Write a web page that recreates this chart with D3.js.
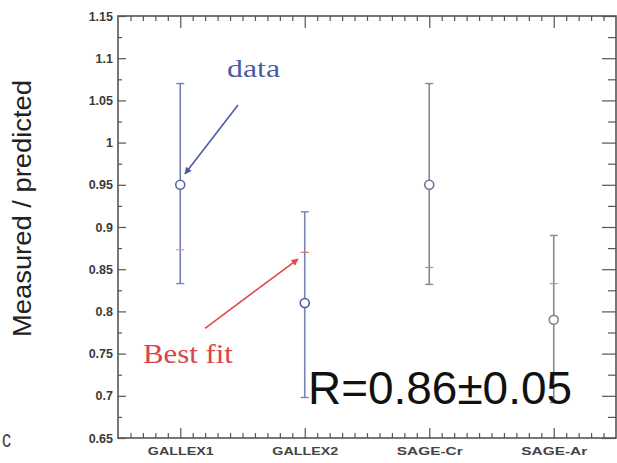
<!DOCTYPE html>
<html>
<head>
<meta charset="utf-8">
<script src="https://cdn.jsdelivr.net/npm/d3@7"></script>
<style>
  html, body { margin: 0; padding: 0; background: #fff; }
  svg { display: block; }
</style>
</head>
<body>
<svg id="chart" width="617" height="463"></svg>
<script>
// Experiments and measured / predicted ratios
const categories = ["GALLEX1", "GALLEX2", "SAGE-Cr", "SAGE-Ar"];
const measured   = [0.95, 0.81, 0.95, 0.79];
const errLow     = [0.833, 0.698, 0.832, 0.692];
const errHigh    = [1.07, 0.918, 1.07, 0.89];
const bestFit    = [0.873, 0.87, 0.852, 0.833];

// Y tick labels
const yTicks = [0.65, 0.7, 0.75, 0.8, 0.85, 0.9, 0.95, 1, 1.05, 1.1, 1.15];
const yTickLabels = ["0.65", "0.7", "0.75", "0.8", "0.85", "0.9", "0.95", "1", "1.05", "1.1", "1.15"];

// Annotations (in category-index / ratio units)
const dataArrow = { from: [0.964, 1.0446], to: [0.538, 0.963] };
const fitArrow  = { from: [0.699, 0.780], to: [1.446, 0.862] };
const dataNote  = { text: "data", at: [0.876, 1.078] };
const fitNote   = { text: "Best fit", at: [0.2, 0.739] };
const rNote     = { text: "R=0.86\u00b10.05", at: [1.526, 0.690] };

const barColors    = ["#7480b4", "#7a84b4", "#858894", "#8a8a8e"];
const circleColors = ["#5a68a6", "#4a5aa2", "#6e7596", "#85858a"];
const fitColors    = ["#c9a0a8", "#d66a6a", "#9a9aa0", "#a0a0a4"];

const svg = d3.select("#chart");
const plotL = 118, plotR = 616, plotT = 16, plotB = 438;

const x = d3.scaleLinear().domain([0, 4]).range([plotL, plotR]);
const y = d3.scaleLinear().domain([0.65, 1.15]).range([plotB, plotT]);

const axisColor = "#555";
const labelFont = "'Liberation Sans', Arial, sans-serif";

// Frame
svg.append("rect")
  .attr("x", plotL).attr("y", plotT)
  .attr("width", plotR - plotL).attr("height", plotB - plotT)
  .attr("fill", "none").attr("stroke", axisColor).attr("stroke-width", 1.6);

function styleAxis(g) {
  g.select(".domain").remove();
  g.selectAll(".tick line").attr("stroke", axisColor).attr("stroke-width", 1.2);
}

// Left axis: major ticks with labels, minor ticks in between
const yMinor = d3.range(0, 10).map(i => 0.675 + i * 0.05);
svg.append("g").attr("transform", `translate(${plotL},0)`)
  .call(d3.axisLeft(y).tickValues(yMinor).tickSize(-4).tickFormat(""))
  .call(styleAxis);
svg.append("g").attr("transform", `translate(${plotL},0)`)
  .call(d3.axisLeft(y).tickValues(yTicks).tickSize(-8).tickPadding(5)
        .tickFormat((d, i) => yTickLabels[i]))
  .call(styleAxis)
  .call(g => g.selectAll("text")
    .attr("font-family", labelFont).attr("font-weight", "bold")
    .attr("font-size", 12.5).attr("fill", "#3a3a3a"));

// Right axis ticks
svg.append("g").attr("transform", `translate(${plotR},0)`)
  .call(d3.axisRight(y).tickValues(yMinor).tickSize(-8).tickFormat(""))
  .call(styleAxis);
svg.append("g").attr("transform", `translate(${plotR},0)`)
  .call(d3.axisRight(y).tickValues(yTicks).tickSize(-14).tickFormat(""))
  .call(styleAxis);

// Bottom and top axes: minor ticks every 0.1, category ticks longer
const xCat = categories.map((c, i) => i + 0.5);
const xMinor = d3.range(1, 40).map(i => i / 10)
  .filter(v => !xCat.some(c => Math.abs(c - v) < 1e-6));

svg.append("g").attr("transform", `translate(0,${plotB})`)
  .call(d3.axisBottom(x).tickValues(xMinor).tickSize(-5).tickFormat(""))
  .call(styleAxis);
svg.append("g").attr("transform", `translate(0,${plotB})`)
  .call(d3.axisBottom(x).tickValues(xCat).tickSize(-10).tickPadding(10)
        .tickFormat((d, i) => categories[i]))
  .call(styleAxis)
  .call(g => g.selectAll("text")
    .attr("font-family", labelFont).attr("font-weight", "bold")
    .attr("font-size", 10).attr("fill", "#444")
    .attr("textLength", 66).attr("lengthAdjust", "spacingAndGlyphs"));

svg.append("g").attr("transform", `translate(0,${plotT})`)
  .call(d3.axisTop(x).tickValues(xMinor).tickSize(-5).tickFormat(""))
  .call(styleAxis);
svg.append("g").attr("transform", `translate(0,${plotT})`)
  .call(d3.axisTop(x).tickValues(xCat).tickSize(-12).tickFormat(""))
  .call(styleAxis);

// Y axis title
svg.append("text")
  .attr("transform", "translate(31,208.5) rotate(-90)")
  .attr("text-anchor", "middle")
  .attr("font-family", labelFont)
  .attr("font-size", 25)
  .attr("fill", "#222")
  .attr("textLength", 257).attr("lengthAdjust", "spacingAndGlyphs")
  .text("Measured / predicted");

// Panel letter
svg.append("text")
  .attr("x", 2).attr("y", 447)
  .attr("font-family", labelFont).attr("font-size", 24)
  .attr("fill", "#444")
  .attr("textLength", 9).attr("lengthAdjust", "spacingAndGlyphs")
  .text("c");

// Error bars, caps, best-fit markers and measured points
const points = svg.append("g");
const capW = 4;
categories.forEach((c, i) => {
  const cx = x(i + 0.5);
  const g = points.append("g");
  g.append("line")
    .attr("x1", cx).attr("x2", cx)
    .attr("y1", y(errLow[i])).attr("y2", y(errHigh[i]))
    .attr("stroke", barColors[i]).attr("stroke-width", 1.6);
  [errLow[i], errHigh[i]].forEach(v => {
    g.append("line")
      .attr("x1", cx - capW).attr("x2", cx + capW)
      .attr("y1", y(v)).attr("y2", y(v))
      .attr("stroke", barColors[i]).attr("stroke-width", 1.4);
  });
  g.append("line")
    .attr("x1", cx - capW).attr("x2", cx + capW)
    .attr("y1", y(bestFit[i])).attr("y2", y(bestFit[i]))
    .attr("stroke", fitColors[i]).attr("stroke-width", 1.2);
  g.append("circle")
    .attr("cx", cx).attr("cy", y(measured[i])).attr("r", 4.5)
    .attr("fill", "#fff")
    .attr("stroke", circleColors[i]).attr("stroke-width", 1.6);
});

// Arrow markers
const defs = svg.append("defs");
function marker(id, color) {
  defs.append("marker")
    .attr("id", id).attr("viewBox", "0 0 10 10")
    .attr("refX", 9).attr("refY", 5)
    .attr("markerWidth", 9).attr("markerHeight", 7)
    .attr("markerUnits", "userSpaceOnUse")
    .attr("orient", "auto")
    .append("path").attr("d", "M0,0 L10,5 L0,10 z").attr("fill", color);
}
marker("arrowBlue", "#4a5ca8");
marker("arrowRed", "#e0484c");

function arrow(a, color, id) {
  svg.append("line")
    .attr("x1", x(a.from[0])).attr("y1", y(a.from[1]))
    .attr("x2", x(a.to[0])).attr("y2", y(a.to[1]))
    .attr("stroke", color).attr("stroke-width", 1.6)
    .attr("marker-end", `url(#${id})`);
}
arrow(dataArrow, "#4a5ca8", "arrowBlue");
arrow(fitArrow, "#e0484c", "arrowRed");

// Annotation labels
svg.append("text")
  .attr("x", x(dataNote.at[0])).attr("y", y(dataNote.at[1]))
  .attr("font-family", "'Liberation Serif', 'Times New Roman', serif")
  .attr("font-size", 25).attr("fill", "#4a5ca8")
  .attr("textLength", 53).attr("lengthAdjust", "spacingAndGlyphs")
  .text(dataNote.text);

svg.append("text")
  .attr("x", x(fitNote.at[0])).attr("y", y(fitNote.at[1]))
  .attr("font-family", "'Liberation Serif', 'Times New Roman', serif")
  .attr("font-size", 27).attr("fill", "#d9454a")
  .attr("textLength", 90).attr("lengthAdjust", "spacingAndGlyphs")
  .text(fitNote.text);

svg.append("text")
  .attr("x", x(rNote.at[0])).attr("y", y(rNote.at[1]))
  .attr("font-family", labelFont)
  .attr("font-size", 46).attr("fill", "#111")
  .attr("textLength", 264).attr("lengthAdjust", "spacingAndGlyphs")
  .text(rNote.text);
</script>
</body>
</html>
